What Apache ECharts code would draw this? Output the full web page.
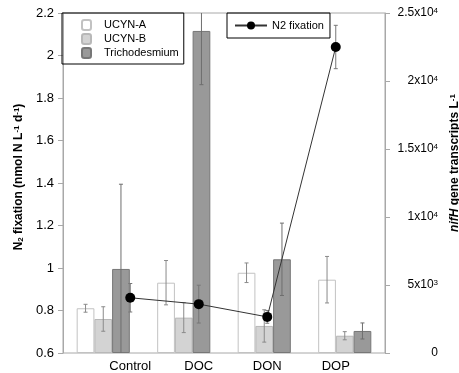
<!DOCTYPE html>
<html>
<head>
<meta charset="utf-8">
<script src="https://cdn.jsdelivr.net/npm/echarts@6/dist/echarts.min.js"></script>
<style>
html, body { margin: 0; padding: 0; background: #fff; }
#chart { width: 459px; height: 373px; }
</style>
</head>
<body>
<div id="chart"></div>
<script>
var treatments = ['Control', 'DOC', 'DON', 'DOP'];

// nifH gene transcripts L-1 (right axis)
var ucynA = [3290, 5170, 5900, 5390];
var ucynAErr = [290, 1630, 720, 1710];
var ucynB = [2500, 2600, 1990, 1270];
var ucynBErr = [900, 1100, 1190, 300];
var tricho = [6180, 23680, 6890, 1620];
var trichoErr = [6230, 3950, 2660, 590];

// N2 fixation, nmol N L-1 d-1 (left axis)
var n2fix = [0.86, 0.83, 0.77, 2.04];
var n2fixErr = [0.067, 0.089, 0.03, 0.102];

var FONT = 'Liberation Sans, Arial, sans-serif';
var barFrac = 0.22;

function errData(vals, errs) {
    var out = [];
    for (var i = 0; i < vals.length; i++) {
        out.push([i, vals[i], errs[i]]);
    }
    return out;
}

// vertical error bar with caps, shifted to sit on its bar inside the group
function errItem(slot, color, cap) {
    return function (params, api) {
        var i = api.value(0);
        var v = api.value(1);
        var e = api.value(2);
        var c = api.coord([i, v]);
        var bw = api.size([1, 0])[0] * barFrac;
        var x = c[0] + slot * bw;
        var hi = api.coord([i, v + e])[1];
        var lo = api.coord([i, v - e])[1];
        var cs = params.coordSys;
        var top = Math.max(hi, cs.y);
        var bot = Math.min(lo, cs.y + cs.height);
        var st = {stroke: color, lineWidth: 1};
        var kids = [{type: 'line', shape: {x1: x, y1: top, x2: x, y2: bot}, style: st}];
        if (hi >= cs.y) kids.push({type: 'line', shape: {x1: x - cap, y1: hi, x2: x + cap, y2: hi}, style: st});
        if (lo <= cs.y + cs.height) kids.push({type: 'line', shape: {x1: x - cap, y1: lo, x2: x + cap, y2: lo}, style: st});
        return {type: 'group', children: kids};
    };
}

function sciLabel(v) {
    if (v === 0) return '{n|0}';
    var e = Math.floor(Math.log10(v) + 1e-9);
    var m = +(v / Math.pow(10, e)).toFixed(2);
    return '{n|' + m + 'x10}{sup|' + e + '}';
}

var chart = echarts.init(document.getElementById('chart'), null, {renderer: 'canvas'});

var option = {
    animation: false,
    textStyle: {fontFamily: FONT},
    grid: [
        {left: 63, right: 74, top: 13, bottom: 20, outerBoundsMode: 'none', containLabel: false,
            show: true, borderColor: '#a8a8a8', borderWidth: 1},
        {left: 96, right: 89, top: 13, bottom: 20, outerBoundsMode: 'none', containLabel: false}
    ],
    legend: [
        {
            data: ['UCYN-A', 'UCYN-B', 'Trichodesmium'],
            orient: 'vertical',
            left: 62, top: 13,
            padding: [6, 5, 5, 19],
            itemWidth: 9, itemHeight: 10, itemGap: 2,
            borderColor: '#000', borderWidth: 1,
            textStyle: {fontFamily: FONT, fontSize: 11, color: '#000', lineHeight: 12, padding: [0, 0, 0, 8]}
        },
        {
            data: ['N2 fixation'],
            left: 227, top: 13,
            padding: [7, 6, 7, 7],
            itemWidth: 32, itemHeight: 10,
            borderColor: '#000', borderWidth: 1,
            textStyle: {fontFamily: FONT, fontSize: 11, color: '#000'}
        }
    ],
    xAxis: [
        {
            type: 'category', gridIndex: 0, data: treatments,
            axisLine: {show: false}, axisTick: {show: false}, axisLabel: {show: false}
        },
        {
            type: 'category', gridIndex: 1, data: treatments,
            axisLine: {show: false}, axisTick: {show: false},
            axisLabel: {fontFamily: FONT, fontSize: 13, color: '#000', margin: 7}
        }
    ],
    yAxis: [
        {
            type: 'value', gridIndex: 0, position: 'left',
            min: 0.6, max: 2.2, interval: 0.2,
            splitLine: {show: false},
            axisLine: {show: true, lineStyle: {color: '#a8a8a8'}},
            axisTick: {show: true, length: 5, lineStyle: {color: '#a8a8a8'}},
            axisLabel: {fontFamily: FONT, fontSize: 13, color: '#000', margin: 9},
            name: '{a|N}{s|2}{a| fixation (nmol N L}{p|-1}{a| d}{p|-1}{a|)}',
            nameLocation: 'middle', nameGap: 37,
            nameTextStyle: {
                padding: [0, 0, 0, 12],
                rich: {
                    a: {fontFamily: FONT, fontSize: 12, fontWeight: 'bold', color: '#000'},
                    s: {fontFamily: FONT, fontSize: 8, fontWeight: 'bold', color: '#000', verticalAlign: 'bottom'},
                    p: {fontFamily: FONT, fontSize: 8, fontWeight: 'bold', color: '#000', verticalAlign: 'top'}
                }
            }
        },
        {
            type: 'value', gridIndex: 0, position: 'right',
            min: 0, max: 25000, interval: 5000,
            splitLine: {show: false},
            axisLine: {show: true, lineStyle: {color: '#a8a8a8'}},
            axisTick: {show: true, length: 5, lineStyle: {color: '#a8a8a8'}},
            axisLabel: {
                color: '#000', margin: 53, align: 'right',
                formatter: sciLabel,
                rich: {
                    n: {fontFamily: FONT, fontSize: 12, color: '#000'},
                    sup: {fontFamily: FONT, fontSize: 8, color: '#000', verticalAlign: 'top'}
                }
            },
            name: '{i|nifH}{a| gene transcripts L}{p|-1}',
            nameLocation: 'middle', nameGap: 54,
            nameTextStyle: {
                padding: [0, 0, 0, 40],
                rich: {
                    i: {fontFamily: FONT, fontSize: 12, fontWeight: 'bold', fontStyle: 'italic', color: '#000'},
                    a: {fontFamily: FONT, fontSize: 12, fontWeight: 'bold', color: '#000'},
                    p: {fontFamily: FONT, fontSize: 8, fontWeight: 'bold', color: '#000', verticalAlign: 'top'}
                }
            }
        },
        {
            type: 'value', gridIndex: 1, min: 0.6, max: 2.2, show: false
        }
    ],
    series: [
        {
            name: 'UCYN-A', type: 'bar', xAxisIndex: 0, yAxisIndex: 1,
            barWidth: (barFrac * 100) + '%', barGap: '0%',
            itemStyle: {color: '#ffffff', borderColor: '#c2c2c2', borderWidth: 1},
            data: ucynA
        },
        {
            name: 'UCYN-B', type: 'bar', xAxisIndex: 0, yAxisIndex: 1,
            barWidth: (barFrac * 100) + '%', barGap: '0%',
            itemStyle: {color: '#d3d3d3', borderColor: '#b8b8b8', borderWidth: 1},
            data: ucynB
        },
        {
            name: 'Trichodesmium', type: 'bar', xAxisIndex: 0, yAxisIndex: 1,
            barWidth: (barFrac * 100) + '%', barGap: '0%',
            itemStyle: {color: '#999999', borderColor: '#777777', borderWidth: 1},
            data: tricho
        },
        {
            type: 'custom', xAxisIndex: 0, yAxisIndex: 1, z: 3,
            renderItem: errItem(-1, '#8a8a8a', 2), encode: {x: 0, y: 1},
            data: errData(ucynA, ucynAErr)
        },
        {
            type: 'custom', xAxisIndex: 0, yAxisIndex: 1, z: 3,
            renderItem: errItem(0, '#8a8a8a', 2), encode: {x: 0, y: 1},
            data: errData(ucynB, ucynBErr)
        },
        {
            type: 'custom', xAxisIndex: 0, yAxisIndex: 1, z: 3,
            renderItem: errItem(1, '#6e6e6e', 2), encode: {x: 0, y: 1},
            data: errData(tricho, trichoErr)
        },
        {
            type: 'custom', xAxisIndex: 1, yAxisIndex: 2, z: 4,
            renderItem: errItem(0, '#777777', 2), encode: {x: 0, y: 1},
            data: errData(n2fix, n2fixErr)
        },
        {
            name: 'N2 fixation', type: 'line', xAxisIndex: 1, yAxisIndex: 2, z: 5,
            symbol: 'circle', symbolSize: 10,
            lineStyle: {color: '#333333', width: 1},
            itemStyle: {color: '#000000'},
            data: n2fix
        }
    ]
};

chart.setOption(option);
</script>
</body>
</html>
